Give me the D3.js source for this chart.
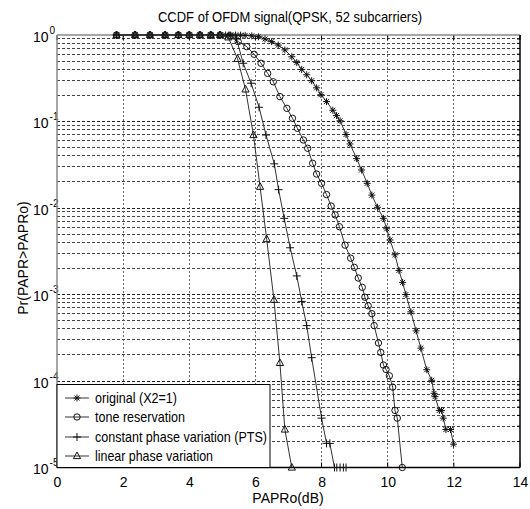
<!DOCTYPE html>
<html><head><meta charset="utf-8">
<script src="https://cdn.jsdelivr.net/npm/d3@7"></script>
<style>body{margin:0;background:#fff}svg text{font-family:Arial,"Liberation Sans",sans-serif;fill:#000}</style>
</head><body><svg id="c" width="530" height="509"></svg>
<script>
const titleText = "CCDF of OFDM signal(QPSK, 52 subcarriers)";
const xLabel = "PAPRo(dB)";
const yLabel = "Pr(PAPR>PAPRo)";
const xTicks = [0, 2, 4, 6, 8, 10, 12, 14];
const yExps = [0, -1, -2, -3, -4, -5];
const seriesNames = ["original (X2=1)", "tone reservation", "constant phase variation (PTS)", "linear phase variation"];

const origX = [1.8,2.36,2.81,3.27,3.67,4.0,4.32,4.65,4.93,5.1,5.25,5.4,5.55,5.69,5.89,6.09,6.29,6.49,6.69,6.89,7.1,7.25,7.4,7.55,7.7,7.85,7.98,8.15,8.34,8.45,8.56,8.74,8.86,9.06,9.21,9.38,9.52,9.69,9.87,9.97,10.07,10.22,10.34,10.45,10.55,10.7,10.86,11.0,11.18,11.33,11.4,11.43,11.56,11.63,11.68,11.76,11.9,11.99];
const origP = [1,1,1,1,1,1,1,1,1,1,1,0.998,0.995,0.99,0.978,0.955,0.9,0.838,0.765,0.672,0.56,0.48,0.40,0.347,0.296,0.245,0.204,0.17,0.135,0.117,0.102,0.0708,0.055,0.0372,0.0275,0.0193,0.0141,0.0102,0.0076,0.00575,0.00427,0.00288,0.0019,0.00138,0.001,0.00063,0.00038,0.00024,0.000135,0.000102,0.000072,0.000066,0.0000457,0.0000457,0.0000372,0.0000275,0.0000275,0.0000186];

const trX = [1.8,2.36,2.81,3.27,3.67,4.0,4.32,4.65,4.93,5.23,5.48,5.74,5.96,6.17,6.37,6.54,6.74,6.95,7.12,7.27,7.45,7.58,7.73,7.85,8.0,8.15,8.29,8.41,8.54,8.71,8.88,8.99,9.11,9.23,9.31,9.41,9.52,9.59,9.72,9.79,9.87,9.95,10.05,10.15,10.22,10.29,10.44];
const trP = [1,1,1,1,1,1,1,1,1,0.977,0.838,0.733,0.598,0.471,0.36,0.288,0.194,0.142,0.109,0.0834,0.0611,0.049,0.0329,0.0247,0.0193,0.0143,0.01054,0.00832,0.00608,0.00372,0.00263,0.00206,0.00155,0.00121,0.00093,0.00074,0.0006,0.000437,0.000275,0.000214,0.000153,0.000136,0.000115,0.000085,0.0000457,0.0000372,0.00001];

const ptsX = [1.8,2.36,2.81,3.27,3.67,4.0,4.32,4.65,4.93,5.2,5.43,5.63,5.87,6.11,6.32,6.57,6.70,6.87,7.05,7.25,7.40,7.55,7.70,8.0,8.15,8.25,8.39,8.46,8.56,8.66,8.74];
const ptsP = [1,1,1,1,1,1,1,1,1,0.99,0.9,0.471,0.277,0.146,0.0698,0.0324,0.0163,0.00759,0.00347,0.00164,0.000832,0.000437,0.000186,0.0000372,0.000019,0.000019,0.00001,0.00001,0.00001,0.00001,0.00001];

const linX = [1.8,2.36,2.81,3.27,3.67,4.0,4.32,4.65,4.93,5.18,5.46,5.70,5.94,6.14,6.34,6.56,6.74,6.89,7.10];
const linP = [1,1,1,1,1,1,1,1,1,0.94,0.53,0.235,0.0698,0.0176,0.00437,0.00087,0.000162,0.0000275,0.00001];

const svg = d3.select("#c");
const L = 57, R = 520, T = 35, B = 467.5;
const x = d3.scaleLinear().domain([0, 14]).range([L, R]);
const y = d3.scaleLog().domain([1e-5, 1]).range([B, T]);

// grid
const g = svg.append("g");
const minorVals = [];
for (let e = -5; e < 0; e++) for (let m = 2; m <= 9; m++) minorVals.push(m * Math.pow(10, e));
g.selectAll("line.hm").data(minorVals).join("line")
  .attr("x1", L).attr("x2", R).attr("y1", d => y(d)).attr("y2", d => y(d))
  .attr("stroke", "#444").attr("stroke-width", 1).attr("stroke-dasharray", "3,2").attr("shape-rendering", "crispEdges");
g.selectAll("line.hM").data(yExps.slice(1, 5).map(e => Math.pow(10, e))).join("line")
  .attr("x1", L).attr("x2", R).attr("y1", d => y(d)).attr("y2", d => y(d))
  .attr("stroke", "#222").attr("stroke-width", 1).attr("stroke-dasharray", "3,2").attr("shape-rendering", "crispEdges");
g.selectAll("line.v").data(xTicks.slice(1, -1)).join("line")
  .attr("x1", d => x(d)).attr("x2", d => x(d)).attr("y1", T).attr("y2", B)
  .attr("stroke", "#666").attr("stroke-width", 1).attr("stroke-dasharray", "2,2").attr("shape-rendering", "crispEdges");

// axes
const xa = svg.append("g").attr("transform", `translate(0,${B})`)
  .call(d3.axisBottom(x).tickValues(xTicks).tickSize(0).tickPadding(10).tickFormat(d3.format("d")));
xa.select(".domain").remove();
xa.selectAll("text").attr("font-size", 14).attr("font-family", "Arial, 'Liberation Sans', sans-serif");

const ya = svg.append("g").attr("transform", `translate(${L},0)`)
  .call(d3.axisLeft(y).tickValues(yExps.map(e => Math.pow(10, e))).tickSize(0).tickFormat(""));
ya.select(".domain").remove();
ya.selectAll(".tick").each(function(d) {
  const t = d3.select(this).append("text").attr("x", -24).attr("y", 6).attr("text-anchor", "start")
    .attr("font-size", 14).attr("fill", "#000");
  t.append("tspan").text("10");
  t.append("tspan").attr("dx", 1).attr("dy", -8).attr("font-size", 10).text(Math.round(Math.log10(d)));
});

// inside ticks
svg.append("g").selectAll("line").data(xTicks).join("line")
  .attr("x1", d => x(d)).attr("x2", d => x(d)).attr("y1", B).attr("y2", B - 5).attr("stroke", "#000");
svg.append("g").selectAll("line").data(xTicks).join("line")
  .attr("x1", d => x(d)).attr("x2", d => x(d)).attr("y1", T).attr("y2", T + 5).attr("stroke", "#000");
svg.append("g").selectAll("line").data(minorVals).join("line")
  .attr("x1", R).attr("x2", R - 3).attr("y1", d => y(d)).attr("y2", d => y(d)).attr("stroke", "#000");

// frame
svg.append("line").attr("x1", L).attr("x2", R).attr("y1", T).attr("y2", T).attr("stroke", "#888").attr("stroke-width", 1.5);
svg.append("line").attr("x1", L).attr("x2", L).attr("y1", T).attr("y2", B).attr("stroke", "#888").attr("stroke-width", 1.5);
svg.append("line").attr("x1", R).attr("x2", R).attr("y1", T).attr("y2", B).attr("stroke", "#000").attr("stroke-width", 1.5);
svg.append("line").attr("x1", L).attr("x2", R).attr("y1", B).attr("y2", B).attr("stroke", "#000").attr("stroke-width", 1.5);

function drawMarker(sel, type, cx, cy) {
  const s = sel.append("g").attr("transform", `translate(${cx},${cy})`)
    .attr("fill", "none").attr("stroke", "#111").attr("stroke-width", 1);
  if (type === "star") {
    s.append("path").attr("d", "M-3.5,0H3.5M0,-3.5V3.5M-2.5,-2.5L2.5,2.5M-2.5,2.5L2.5,-2.5");
  } else if (type === "circle") {
    s.append("circle").attr("r", 3.2);
  } else if (type === "plus") {
    s.append("path").attr("d", "M-4,0H4M0,-4V4");
  } else if (type === "tri") {
    s.append("path").attr("d", "M0,-4L3.6,2.6L-3.6,2.6Z");
  }
}

const series = [
  {xs: origX, ps: origP, m: "star"},
  {xs: trX, ps: trP, m: "circle"},
  {xs: ptsX, ps: ptsP, m: "plus"},
  {xs: linX, ps: linP, m: "tri"}
];
const line = d3.line().x(d => x(d[0])).y(d => y(d[1]));
const plot = svg.append("g");
series.forEach(s => {
  const pts = s.xs.map((v, i) => [v, s.ps[i]]);
  plot.append("path").datum(pts).attr("d", line).attr("fill", "none").attr("stroke", "#333").attr("stroke-width", 1);
  pts.forEach(p => drawMarker(plot, s.m, x(p[0]), y(p[1])));
});

// legend
const lg = svg.append("g");
lg.append("rect").attr("x", L).attr("y", 384.5).attr("width", 213).attr("height", B - 384.5)
  .attr("fill", "#fff").attr("stroke", "#000").attr("stroke-width", 1);
const ly = [398, 417, 437, 456];
const lm = ["star", "circle", "plus", "tri"];
const lw = [82, 90, 172, 118];
seriesNames.forEach((n, i) => {
  lg.append("line").attr("x1", 65).attr("x2", 89).attr("y1", ly[i]).attr("y2", ly[i]).attr("stroke", "#333");
  drawMarker(lg, lm[i], 77, ly[i]);
  lg.append("text").attr("x", 95).attr("y", ly[i] + 5).attr("font-size", 14.5)
    .attr("textLength", lw[i]).attr("lengthAdjust", "spacingAndGlyphs").text(n);
});

// title & labels
svg.append("text").attr("x", 290).attr("y", 22).attr("text-anchor", "middle").attr("font-size", 15)
  .attr("textLength", 264).attr("lengthAdjust", "spacingAndGlyphs").text(titleText);
svg.append("text").attr("x", 288).attr("y", 503).attr("text-anchor", "middle").attr("font-size", 14).text(xLabel);
svg.append("text").attr("transform", "translate(28,258) rotate(-90)").attr("text-anchor", "middle").attr("font-size", 14).text(yLabel);
</script></body></html>
